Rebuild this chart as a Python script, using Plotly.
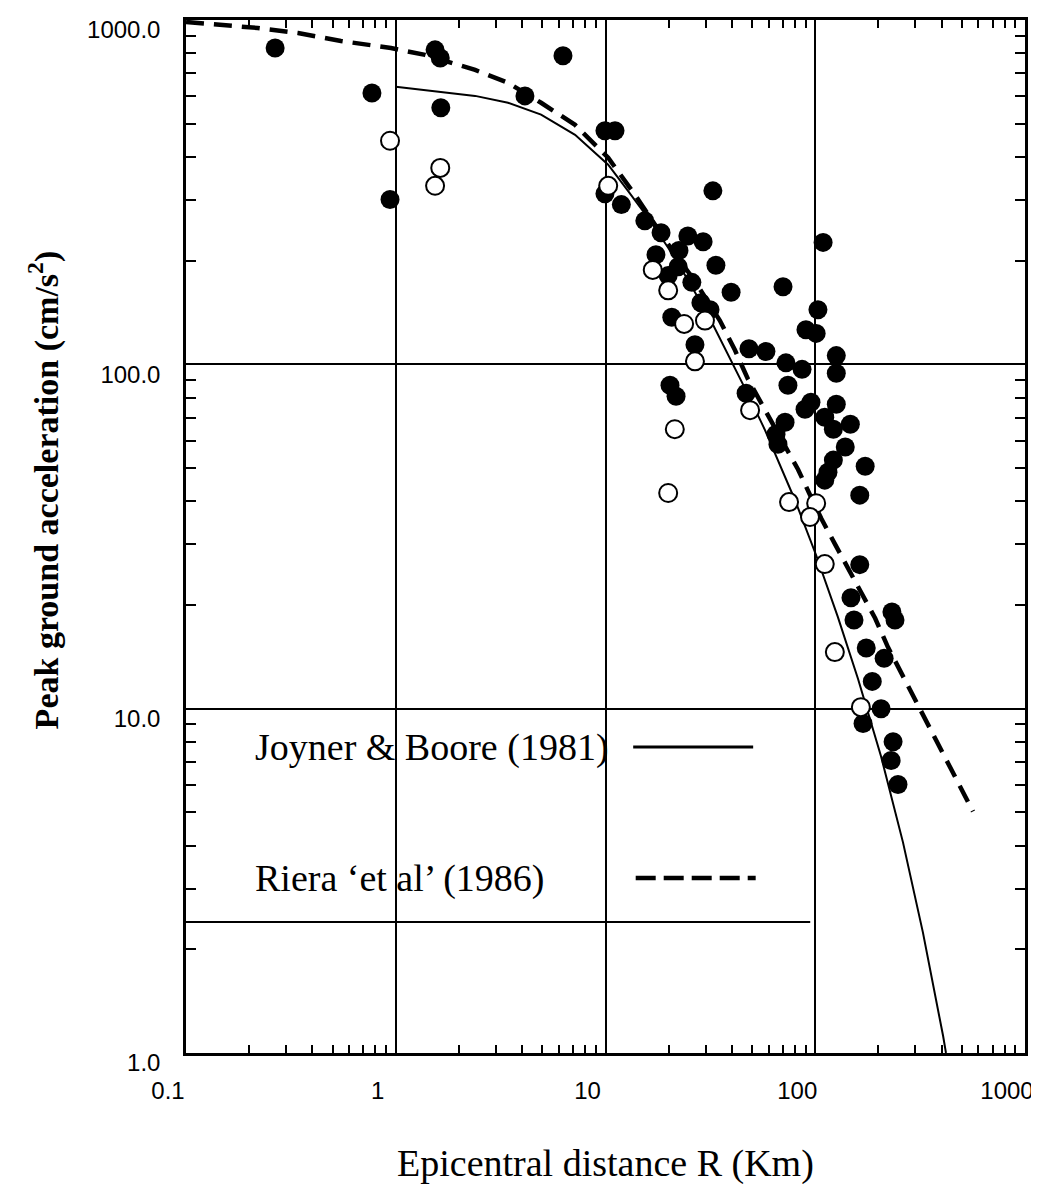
import plotly.graph_objects as go

# ---------------- data ----------------
# Filled circles: epicentral distance (km) and PGA (cm/s^2)
filled_r = [0.266, 0.770, 1.54, 1.63, 1.64, 0.939, 6.27, 4.13, 9.94, 11.1,
            9.94, 11.9, 32.5, 15.4, 18.4, 24.7, 29.2, 17.4, 22.4, 22.2,
            33.6, 19.9, 25.8, 39.7, 28.5, 31.5, 20.7, 26.7, 48.3, 58.2,
            72.5, 86.5, 70.2, 109, 103, 90.3, 101, 126, 126, 74.1,
            20.3, 21.7, 46.8, 95.4, 89.4, 126, 111, 122, 147, 71.8,
            65.0, 66.4, 139, 122, 115, 111, 173, 163, 163, 148,
            232, 240, 153, 175, 213, 187, 206, 169, 235, 230,
            248]
filled_pga = [829, 614, 819, 776, 556, 301, 787, 602, 477, 477,
              313, 291, 319, 261, 241, 236, 227, 208, 214, 192,
              194, 181, 173, 162, 151, 144, 137, 114, 111, 109,
              101, 96.7, 168, 226, 144, 126, 123, 106, 94.2, 86.9,
              86.9, 80.8, 82.4, 77.6, 74.1, 76.6, 70.2, 64.8, 67.0, 67.9,
              62.7, 58.6, 57.5, 52.7, 48.6, 46.1, 50.6, 41.7, 26.2, 21.0,
              19.1, 18.1, 18.1, 15.0, 14.0, 12.0, 10.0, 9.05, 8.02, 7.07,
              6.02]

# Open circles
open_r = [0.939, 1.63, 1.54, 10.3, 16.8, 19.9, 23.7, 29.8, 26.7, 48.9,
          21.4, 19.9, 75.0, 101, 94.4, 111, 124, 165]
open_pga = [446, 372, 330, 330, 188, 164, 131, 134, 102, 73.6,
            64.8, 42.3, 39.8, 39.5, 36.0, 26.3, 14.6, 10.1]

# Joyner & Boore (1981) curve
jb_r = [1.0, 1.59, 2.39, 3.43, 4.93, 7.16, 10.3, 12.8, 15.9, 19.9,
        24.7, 31.8, 38.4, 47.8, 57.6, 68.7, 80.1, 101, 128, 160,
        206, 262, 326, 407, 420]
jb_pga = [640, 618, 602, 575, 531, 464, 380, 319, 267, 218,
          176, 134, 107, 81.8, 64.4, 50.3, 40.3, 27.9, 18.5, 12.2,
          7.26, 4.09, 2.24, 1.12, 1.0]

# Riera et al (1986) curve
ri_r = [0.1, 0.220, 0.342, 0.548, 0.949, 1.38, 2.39, 3.43, 4.93, 7.16,
        10.3, 13.8, 19.9, 26.4, 35.1, 41.4, 47.8, 57.6, 68.7, 82.8,
        95.4, 107, 124, 155, 193, 222, 268, 319, 398, 479, 565]
ri_pga = [987, 948, 917, 869, 829, 792, 716, 657, 575, 496,
          398, 311, 223, 176, 134, 110, 90.5, 73.6, 61.4, 49.5,
          41.2, 35.6, 30.1, 23.4, 18.3, 15.1, 12.1, 9.8, 7.5, 6.05, 5.03]

x_tickvals = [0.1, 1, 10, 100, 1000]
x_ticktext = ["0.1", "1", "10", "100", "1000"]
y_tickvals = [1, 10, 100, 1000]
y_ticktext = ["1.0", "10.0", "100.0", "1000.0"]

x_minor = [m * 10 ** e for e in (-1, 0, 1, 2) for m in range(2, 10)]
y_minor = [m * 10 ** e for e in (0, 1, 2) for m in range(2, 10)]

SERIF = "Liberation Serif, Times New Roman, serif"
SANS = "Liberation Sans, Arial, Helvetica, sans-serif"

fig = go.Figure()

fig.add_trace(go.Scatter(x=ri_r, y=ri_pga, mode="lines",
                         line=dict(color="black", width=4.5, dash="18px,10px"),
                         hoverinfo="skip"))
fig.add_trace(go.Scatter(x=jb_r, y=jb_pga, mode="lines",
                         line=dict(color="black", width=2),
                         hoverinfo="skip"))
fig.add_trace(go.Scatter(x=filled_r, y=filled_pga, mode="markers",
                         marker=dict(symbol="circle", size=19, color="black",
                                     line=dict(width=0))))
fig.add_trace(go.Scatter(x=open_r, y=open_pga, mode="markers",
                         marker=dict(symbol="circle", size=18, color="white",
                                     line=dict(color="black", width=2))))

axis_common = dict(
    type="log", automargin=False,
    showgrid=True, gridcolor="black", gridwidth=1.5,
    showline=True, linecolor="black", linewidth=2.5, mirror="allticks",
    ticks="inside", ticklen=10, tickwidth=1.5, tickcolor="black",
    zeroline=False, ticklabeloverflow="allow",
    tickfont=dict(family=SANS, size=24, color="black"),
)

fig.update_xaxes(range=[-1, 3], tickmode="array", tickvals=x_tickvals,
                 ticktext=x_ticktext, ticklabelstandoff=14, ticklabelshift=-18,
                 minor=dict(tickmode="array", tickvals=x_minor, ticks="inside",
                            ticklen=8, tickwidth=1.5, tickcolor="black",
                            showgrid=False),
                 **axis_common)
fig.update_yaxes(range=[0, 3], tickmode="array", tickvals=y_tickvals,
                 ticktext=y_ticktext, ticklabelstandoff=18, ticklabelshift=10,
                 minor=dict(tickmode="array", tickvals=y_minor, ticks="inside",
                            ticklen=10, tickwidth=1.5, tickcolor="black",
                            showgrid=False),
                 **axis_common)

# legend box (white panel hiding the grid) and its frame line
fig.add_shape(type="rect", xref="paper", yref="paper",
              x0=0.0, x1=0.746, y0=0.1268, y1=0.3315,
              fillcolor="white", line=dict(width=0), layer="between")
fig.add_shape(type="line", xref="paper", yref="paper",
              x0=0.0, x1=0.744, y0=0.1268, y1=0.1268,
              line=dict(color="black", width=2), layer="above")
# legend samples
fig.add_shape(type="line", xref="paper", yref="paper",
              x0=0.533, x1=0.676, y0=0.2962, y1=0.2962,
              line=dict(color="black", width=3), layer="above")
fig.add_shape(type="line", xref="paper", yref="paper",
              x0=0.536, x1=0.679, y0=0.1694, y1=0.1694,
              line=dict(color="black", width=4.5, dash="20px,8px"), layer="above")

fig.add_annotation(text="Joyner &amp; Boore (1981)", xref="paper", yref="paper",
                   x=0.080, y=0.2962, xanchor="left", yanchor="middle",
                   showarrow=False, font=dict(family=SERIF, size=38, color="black"))
fig.add_annotation(text="Riera \u2018et al\u2019 (1986)", xref="paper", yref="paper",
                   x=0.080, y=0.1694, xanchor="left", yanchor="middle",
                   showarrow=False, font=dict(family=SERIF, size=38, color="black"))

# axis titles
fig.add_annotation(text="Epicentral distance R (Km)", xref="paper", yref="paper",
                   x=0.5, y=-0.1065, xanchor="center", yanchor="middle",
                   showarrow=False, font=dict(family=SERIF, size=38, color="black"))
fig.add_annotation(text="<b>Peak ground acceleration (cm/s<sup>2</sup>)</b>",
                   xref="paper", yref="paper", textangle=-90,
                   x=-0.170, y=0.545, xanchor="center", yanchor="middle",
                   showarrow=False, font=dict(family=SERIF, size=34, color="black"))

fig.update_layout(
    width=1039, height=1184,
    margin=dict(l=178, r=22, t=12, b=139, autoexpand=False),
    paper_bgcolor="white", plot_bgcolor="white",
    showlegend=False,
)

fig.write_html("out.html")
